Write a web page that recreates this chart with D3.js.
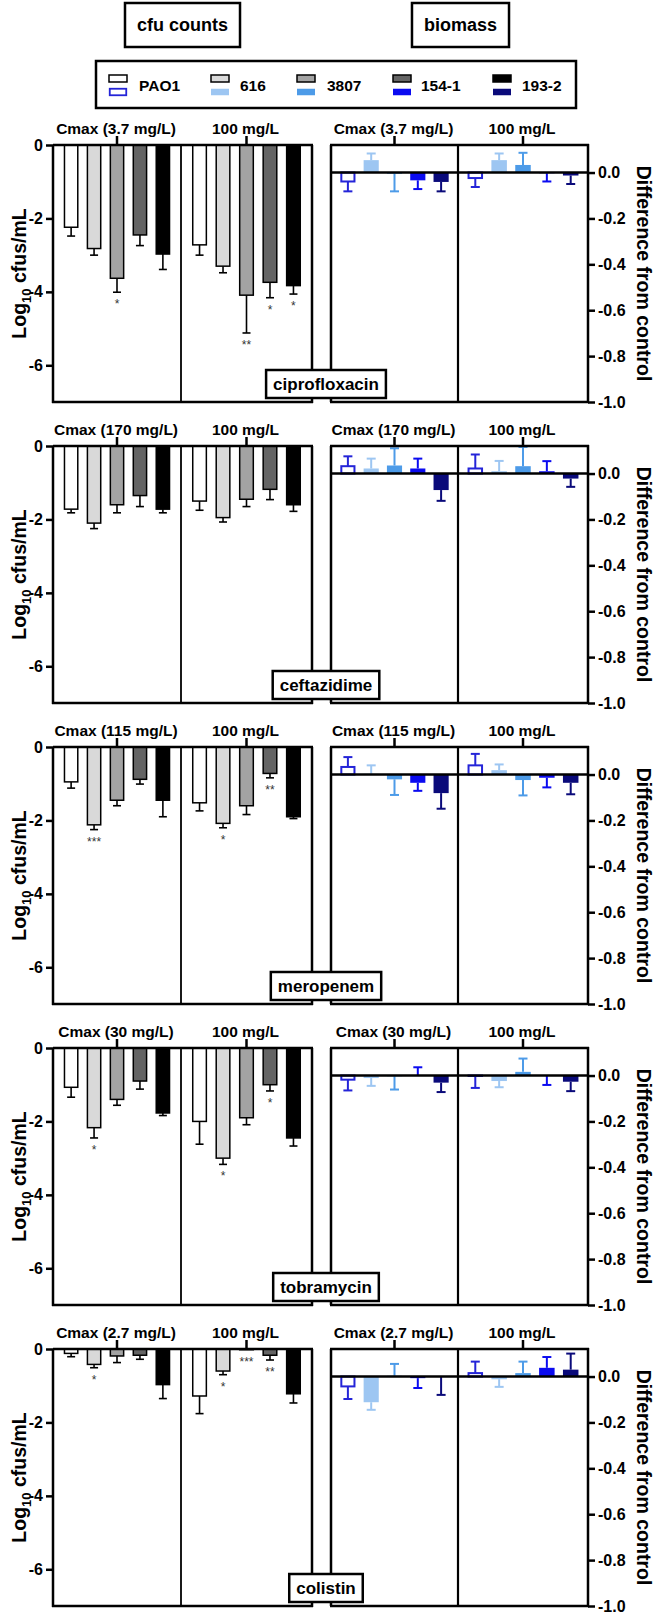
<!DOCTYPE html>
<html><head><meta charset="utf-8">
<script src="https://cdn.jsdelivr.net/npm/d3@7"></script>
<style>
body{margin:0;background:#fff;}
svg text{font-family:"Liberation Sans",Arial,sans-serif;}
</style></head><body>
<svg id="c" width="655" height="1615"></svg>
<script>
// ---------------- DATA ----------------
const strains = ["PAO1", "616", "3807", "154-1", "193-2"];
const antibiotics = ["ciprofloxacin", "ceftazidime", "meropenem", "tobramycin", "colistin"];
const concLabels = [
  ["Cmax (3.7 mg/L)", "100 mg/L"],
  ["Cmax (170 mg/L)", "100 mg/L"],
  ["Cmax (115 mg/L)", "100 mg/L"],
  ["Cmax (30 mg/L)", "100 mg/L"],
  ["Cmax (2.7 mg/L)", "100 mg/L"]
];
const cfuTicks = [0, -2, -4, -6];
const bioTicks = [0, -0.2, -0.4, -0.6, -0.8, -1.0];

// log10 cfus/mL change: [antibiotic][Cmax, 100 mg/L][strain]
const cfuMean = [
  [[-2.24, -2.82, -3.63, -2.45, -2.97], [-2.72, -3.30, -4.09, -3.74, -3.83]],
  [[-1.72, -2.10, -1.60, -1.35, -1.72], [-1.50, -1.95, -1.45, -1.18, -1.60]],
  [[-0.95, -2.12, -1.45, -0.88, -1.45], [-1.52, -2.08, -1.60, -0.72, -1.90]],
  [[-1.07, -2.17, -1.40, -0.90, -1.77], [-2.00, -3.00, -1.90, -1.00, -2.45]],
  [[-0.12, -0.42, -0.19, -0.17, -0.97], [-1.28, -0.60, -0.02, -0.17, -1.22]]
];
const cfuSD = [
  [[0.24, 0.18, 0.38, 0.29, 0.42], [0.28, 0.18, 1.03, 0.42, 0.23]],
  [[0.10, 0.15, 0.22, 0.30, 0.10], [0.25, 0.12, 0.20, 0.28, 0.18]],
  [[0.17, 0.13, 0.15, 0.13, 0.45], [0.22, 0.12, 0.24, 0.12, 0.05]],
  [[0.27, 0.28, 0.16, 0.22, 0.07], [0.62, 0.17, 0.19, 0.17, 0.22]],
  [[0.09, 0.09, 0.18, 0.11, 0.38], [0.48, 0.10, 0.00, 0.13, 0.25]]
];
const cfuSig = [
  [["", "", "*", "", ""], ["", "", "**", "*", "*"]],
  [["", "", "", "", ""], ["", "", "", "", ""]],
  [["", "***", "", "", ""], ["", "*", "", "**", ""]],
  [["", "*", "", "", ""], ["", "*", "", "*", ""]],
  [["", "*", "", "", ""], ["", "*", "***", "**", ""]]
];
// biomass difference from control
const bioMean = [
  [[-0.039, 0.054, -0.005, -0.034, -0.041], [-0.024, 0.054, 0.033, -0.003, -0.013]],
  [[0.032, 0.022, 0.035, 0.022, -0.072], [0.022, 0.010, 0.032, 0.010, -0.022]],
  [[0.033, 0.003, -0.021, -0.036, -0.081], [0.040, 0.019, -0.024, -0.014, -0.036]],
  [[-0.018, -0.011, -0.003, 0.002, -0.031], [-0.002, -0.024, 0.016, -0.002, -0.027]],
  [[-0.043, -0.112, 0.003, -0.007, -0.002], [0.015, -0.012, 0.015, 0.038, 0.030]]
];
const bioSD = [
  [[0.043, 0.029, 0.077, 0.038, 0.041], [0.039, 0.029, 0.053, 0.036, 0.037]],
  [[0.043, 0.043, 0.075, 0.043, 0.047], [0.061, 0.045, 0.084, 0.044, 0.036]],
  [[0.043, 0.037, 0.068, 0.035, 0.068], [0.050, 0.025, 0.067, 0.042, 0.050]],
  [[0.047, 0.034, 0.058, 0.034, 0.041], [0.052, 0.027, 0.058, 0.039, 0.041]],
  [[0.055, 0.033, 0.052, 0.043, 0.078], [0.050, 0.033, 0.050, 0.047, 0.070]]
];

// ---------------- STYLE ----------------
const cfuFill = ["#ffffff", "#d9d9d9", "#a3a3a3", "#646464", "#000000"];
const bioFill = ["#ffffff", "#9dc6f2", "#4d9be8", "#0b0bf0", "#0a0a7a"];
const bioLine = ["#2424d8", "#9dc6f2", "#4d9be8", "#0b0bf0", "#0a0a7a"];
const FONT = '"Liberation Sans",Arial,sans-serif';

const svg = d3.select("#c");
svg.append("rect").attr("width", 655).attr("height", 1615).attr("fill", "#fff");

function labelBox(cx, cy, h, text, fs, padX, minW) {
  const g = svg.append("g");
  const r = g.append("rect").attr("fill", "#fff").attr("stroke", "#000").attr("stroke-width", 2.5);
  const t = g.append("text").attr("x", cx).attr("y", cy + fs * 0.36)
    .attr("text-anchor", "middle").attr("font-size", fs).attr("font-weight", "bold").text(text);
  let w = t.node().getComputedTextLength() + 2 * padX;
  if (minW) w = Math.max(w, minW);
  r.attr("x", cx - w / 2).attr("y", cy - h / 2).attr("width", w).attr("height", h);
}

// header boxes
labelBox(182.5, 25, 44, "cfu counts", 18, 12, 115);
labelBox(460.5, 25, 44, "biomass", 18, 12, 91);

// legend
svg.append("rect").attr("x", 96).attr("y", 61).attr("width", 480).attr("height", 47)
  .attr("fill", "#fff").attr("stroke", "#000").attr("stroke-width", 2.5);
const legSwX = [109, 211, 297, 393, 493];
const legLbX = [139, 240, 327, 421, 522];
strains.forEach((s, k) => {
  svg.append("rect").attr("x", legSwX[k]).attr("y", 75).attr("width", 18).attr("height", 7)
    .attr("fill", cfuFill[k]).attr("stroke", "#000").attr("stroke-width", 1.5);
  svg.append("rect").attr("x", legSwX[k] + (k === 0 ? 0.75 : 0)).attr("y", 88.75)
    .attr("width", 18 - (k === 0 ? 1.5 : 0)).attr("height", 6.5)
    .attr("fill", bioFill[k]).attr("stroke", k === 0 ? bioLine[0] : "none").attr("stroke-width", 1.8);
  svg.append("text").attr("x", legLbX[k]).attr("y", 91).attr("font-size", 15.5)
    .attr("font-weight", "bold").text(s);
});

// ---------------- PANELS ----------------
const leftHalves = [[53, 181], [181, 312]];
const rightHalves = [[331, 458], [458, 588]];
const panelH = 257, panelStep = 301, firstTop = 145;

antibiotics.forEach((ab, i) => {
  const top = firstTop + panelStep * i, bottom = top + panelH;
  const yL = d3.scaleLinear().domain([-7, 0]).range([bottom, top]);
  const yR = d3.scaleLinear().domain([-1, 0.12]).range([bottom, top]);

  // ---- left (cfu) ----
  const gL = svg.append("g");
  leftHalves.forEach((hr, c) => {
    const x = d3.scaleBand().domain(strains).range(hr).paddingInner(0.42).paddingOuter(0.5);
    strains.forEach((s, k) => {
      const v = cfuMean[i][c][k], sd = cfuSD[i][c][k];
      const cx = x(s) + x.bandwidth() / 2;
      if (sd > 0) {
        gL.append("line").attr("x1", cx).attr("x2", cx).attr("y1", yL(v)).attr("y2", yL(v - sd))
          .attr("stroke", "#000").attr("stroke-width", 1.6);
        gL.append("line").attr("x1", cx - 4).attr("x2", cx + 4).attr("y1", yL(v - sd)).attr("y2", yL(v - sd))
          .attr("stroke", "#000").attr("stroke-width", 1.6);
      }
      gL.append("rect").attr("x", x(s)).attr("y", yL(0)).attr("width", x.bandwidth())
        .attr("height", Math.max(0, yL(v) - yL(0)))
        .attr("fill", cfuFill[k]).attr("stroke", "#000").attr("stroke-width", 1.5);
      const sig = cfuSig[i][c][k];
      if (sig) {
        gL.append("text").attr("x", cx).attr("y", yL(v - sd) + 16).attr("text-anchor", "middle")
          .attr("font-size", 12).attr("fill", "#333").text(sig);
      }
    });
    // group tick on top
    const gc = (hr[0] + hr[1]) / 2;
    gL.append("line").attr("x1", gc).attr("x2", gc).attr("y1", top).attr("y2", top - 9)
      .attr("stroke", "#000").attr("stroke-width", 2.5);
    svg.append("text").attr("x", gc - 1).attr("y", top - 11).attr("text-anchor", "middle")
      .attr("font-size", 15.5).attr("font-weight", "bold").text(concLabels[i][c]);
  });
  // frame
  gL.append("line").attr("x1", 181).attr("x2", 181).attr("y1", top).attr("y2", bottom).attr("stroke", "#000").attr("stroke-width", 1.8);
  gL.append("line").attr("x1", 312).attr("x2", 312).attr("y1", top).attr("y2", bottom + 1).attr("stroke", "#000").attr("stroke-width", 2.5);
  gL.append("line").attr("x1", 52).attr("x2", 313).attr("y1", bottom).attr("y2", bottom).attr("stroke", "#000").attr("stroke-width", 2.5);
  gL.append("line").attr("x1", 53).attr("x2", 313).attr("y1", yL(0)).attr("y2", yL(0)).attr("stroke", "#000").attr("stroke-width", 2.5);
  const axL = svg.append("g").attr("transform", "translate(53,0)")
    .call(d3.axisLeft(yL).tickValues(cfuTicks).tickSize(7).tickSizeOuter(0).tickPadding(3)
      .tickFormat(d => d === 0 ? "0" : String(d)));
  axL.attr("font-size", 16).attr("font-family", FONT).attr("font-weight", "bold");
  axL.selectAll("path,line").attr("stroke", "#000").attr("stroke-width", 2.5);
  axL.select("path.domain").attr("d", `M0,${top}V${bottom + 1}`);
  // y title
  const tL = svg.append("text").attr("transform", `translate(26,${(top + bottom) / 2}) rotate(-90)`)
    .attr("text-anchor", "middle").attr("font-size", 19.5).attr("font-weight", "bold");
  tL.append("tspan").text("Log");
  tL.append("tspan").attr("font-size", 13).attr("dy", 5).text("10");
  tL.append("tspan").attr("dy", -5).text(" cfus/mL");

  // ---- right (biomass) ----
  const gR = svg.append("g");
  rightHalves.forEach((hr, c) => {
    const x = d3.scaleBand().domain(strains).range(hr).paddingInner(0.35).paddingOuter(0.4);
    strains.forEach((s, k) => {
      const v = bioMean[i][c][k], sd = bioSD[i][c][k];
      const cx = x(s) + x.bandwidth() / 2;
      const end = v >= 0 ? v + sd : v - sd;
      gR.append("line").attr("x1", cx).attr("x2", cx).attr("y1", yR(v)).attr("y2", yR(end))
        .attr("stroke", bioLine[k]).attr("stroke-width", 2);
      gR.append("line").attr("x1", cx - 4.5).attr("x2", cx + 4.5).attr("y1", yR(end)).attr("y2", yR(end))
        .attr("stroke", bioLine[k]).attr("stroke-width", 2);
      const y0 = Math.min(yR(0), yR(v)), hh = Math.abs(yR(v) - yR(0));
      if (k === 0) {
        gR.append("rect").attr("x", x(s) + 1).attr("y", y0).attr("width", x.bandwidth() - 2)
          .attr("height", hh).attr("fill", "#fff").attr("stroke", bioLine[0]).attr("stroke-width", 2);
      } else {
        gR.append("rect").attr("x", x(s)).attr("y", y0).attr("width", x.bandwidth())
          .attr("height", hh).attr("fill", bioFill[k]);
      }
    });
    const gc = (hr[0] + hr[1]) / 2;
    gR.append("line").attr("x1", gc).attr("x2", gc).attr("y1", top).attr("y2", top - 9)
      .attr("stroke", "#000").attr("stroke-width", 2.5);
    svg.append("text").attr("x", gc - 1).attr("y", top - 11).attr("text-anchor", "middle")
      .attr("font-size", 15.5).attr("font-weight", "bold").text(concLabels[i][c]);
  });
  gR.append("line").attr("x1", 330).attr("x2", 589).attr("y1", top).attr("y2", top).attr("stroke", "#000").attr("stroke-width", 2.5);
  gR.append("line").attr("x1", 330).attr("x2", 589).attr("y1", bottom).attr("y2", bottom).attr("stroke", "#000").attr("stroke-width", 2.5);
  gR.append("line").attr("x1", 331).attr("x2", 331).attr("y1", top).attr("y2", bottom).attr("stroke", "#000").attr("stroke-width", 2.5);
  gR.append("line").attr("x1", 458).attr("x2", 458).attr("y1", top).attr("y2", bottom).attr("stroke", "#000").attr("stroke-width", 2.2);
  gR.append("line").attr("x1", 331).attr("x2", 588).attr("y1", yR(0)).attr("y2", yR(0)).attr("stroke", "#000").attr("stroke-width", 2.5);
  const axR = svg.append("g").attr("transform", "translate(588,0)")
    .call(d3.axisRight(yR).tickValues(bioTicks).tickSize(7).tickSizeOuter(0).tickPadding(3)
      .tickFormat(d => d.toFixed(1)));
  axR.attr("font-size", 16).attr("font-family", FONT).attr("font-weight", "bold");
  axR.selectAll("path,line").attr("stroke", "#000").attr("stroke-width", 2.5);
  axR.select("path.domain").attr("d", `M0,${top - 1}V${bottom + 1}`);
  svg.append("text").attr("transform", `translate(637,${(top + bottom) / 2}) rotate(90)`)
    .attr("text-anchor", "middle").attr("font-size", 19.5).attr("font-weight", "bold")
    .text("Difference from control");

  // antibiotic label box
  labelBox(326, bottom - 18, 28, ab, 17, 7);
});
</script>
</body></html>
